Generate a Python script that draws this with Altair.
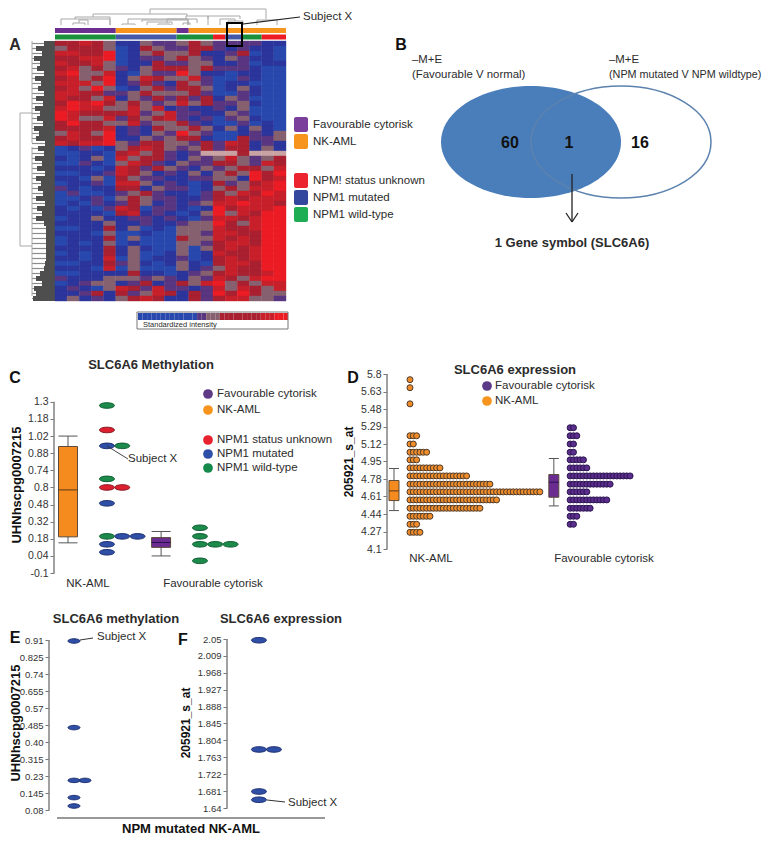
import altair as alt
import pandas as pd

FONT = "Liberation Sans"
DARK = "#2b2b2b"
ONE = pd.DataFrame({"a": [0]})

# ---------- panel A data ----------
heat_rows = [
"44543 11322 343 222 211","34443 01432 244 212 110","55446 01343 341 124 010","44556 01223 432 132 110",
"54453 01142 233 112 011","45343 21344 434 222 100","56335 10322 631 101 100","45346 13543 352 002 100",
"55536 12421 432 011 000","45363 01342 443 013 100","55442 23433 342 002 100","54435 13242 424 132 000",
"46564 34323 534 223 100","56553 35351 211 213 000","65444 45235 221 132 000","65335 24345 212 023 100",
"46443 35233 421 002 010","44445 12143 343 131 310","35436 12132 632 001 213","45446 11323 441 004 223",
"54556 32443 324 254 121","01201 34543 234 244 131","00110 45342 127 774 777","10130 53442 132 353 234",
"00210 35421 322 443 254","11101 54243 213 234 435","00112 54312 131 343 646","11030 43221 122 331 645",
"01120 55312 101 423 456","21011 44132 201 343 556","02001 23421 102 435 465","00120 34322 112 454 555",
"01021 24312 123 556 554","10102 54022 101 645 556","11110 45121 013 635 466","01131 12212 102 554 566",
"11113 11211 233 643 566","00114 13010 333 544 566","11103 00100 332 554 466","01114 03000 433 545 466",
"01013 01000 332 455 466","11114 13100 303 454 566","01014 13001 301 544 566","11015 03011 201 454 566",
"00114 23101 310 455 466","11105 03000 312 354 466","00111 14110 123 454 456","21113 33232 132 543 566",
"01233 12412 435 634 355","12103 54252 212 535 435","11241 42354 142 646 433","13121 34541 142 455 332",
]
level_colors = ["#2948ad", "#2b359b", "#59367f", "#86606e", "#a92030", "#c8202b", "#ec1c24", "#c9a3a3"]
colorbar_levels = "000000000000022333444444444555666"
bar1_seg = [(0, 5, "#6b2f91"), (5, 10, "#f7941d"), (10, 11, "#6b2f91"), (11, 19, "#f7941d")]
bar2_seg = [(0, 5, "#1a8f3c"), (5, 10, "#4558a8"), (10, 13, "#1a8f3c"), (13, 14, "#ed1c24"),
            (14, 15.4, "#4558a8"), (15.4, 17, "#1a8f3c"), (17, 19, "#ed1c24")]
# dendrogram joins: left px, right px, join height, left foot, right foot
top_tree = [(150,266,9,14,19),(93,187,14,17,16),(75,110,17,19,25),(61,110,19,25,25),(73,85,23,25,25),(79,88,20,23,25),
            (142,188,20,22,25),(147,172,22,25,25),(158,170,24,25,25),(122,135,24,25,25),(128,197,19,24,23),
            (167,188,19,23,25),(186,208,16,19,25),(183,190,23,25,25),(208,240,16,19,19),(220,235,19,25,21),
            (228,243,21,25,25),(257,277,20,25,25)]
left_start = [44,36,42,34,40,37,44,35,41,38,44,36,43,35,40,37,43,34,39,36,45,38,44,35,42,37,45,36,41,38,
              43,36,45,37,42,36,44,46,46,46,46,46,46,46,45,44,40,36,42,34,36,33]

cell_rows = []
for r, row in enumerate(heat_rows):
    digits = row.replace(" ", "")
    for c, d in enumerate(digits):
        cell_rows.append({"c": c, "c2": c + 1, "r": r, "r2": r + 1, "lv": int(d)})
heat_df = pd.DataFrame(cell_rows)

# grid cells in picture pixels
COL2, COL3 = 54, 387
ROW1, ROW2, ROW3 = 8, 345, 590
W2, W3 = 333, 378
H1, H2, H3 = 337, 245, 247

PX_COL, PX_ROW = 231 / 19, 5.0
def col_of(px): return (px - 55) / PX_COL
def row_of(py): return (py - 41) / PX_ROW

a_xs = alt.Scale(domain=[col_of(8), col_of(430)], range=[8 - COL2, 430 - COL2], nice=False, zero=False)
a_ys = alt.Scale(domain=[row_of(345), row_of(8)], range=[H1, 0], nice=False, zero=False)
lv_scale = alt.Scale(domain=list(range(8)), range=level_colors)

def ax(f): return alt.X(f, type="quantitative", scale=a_xs, axis=None)
def ay(f): return alt.Y(f, type="quantitative", scale=a_ys, axis=None)
def a2(f): return alt.X2(f)

def t(px, py, s, ox, oy, size=11.5, bold=False, align="left", angle=0, color=DARK):
    kw = dict(fontSize=size, font=FONT, align=align, baseline="middle", color=color,
              fontWeight="bold" if bold else "normal")
    if angle:
        kw["angle"] = angle
    return alt.Chart(ONE).mark_text(**kw).encode(x=alt.value(px - ox), y=alt.value(py - oy), text=alt.value(s))

def seg(x1, y1, x2, y2, ox, oy, color=DARK, w=1.0):
    return alt.Chart(ONE).mark_rule(color=color, strokeWidth=w).encode(
        x=alt.value(x1 - ox), x2=alt.value(x2 - ox), y=alt.value(y1 - oy), y2=alt.value(y2 - oy))

def box(x1, y1, x2, y2, ox, oy, fill="none", stroke=None, w=1.0, radius=0):
    kw = dict(fill=fill, cornerRadius=radius)
    if stroke:
        kw.update(stroke=stroke, strokeWidth=w)
    return alt.Chart(ONE).mark_rect(**kw).encode(
        x=alt.value(x1 - ox), x2=alt.value(x2 - ox), y=alt.value(y1 - oy), y2=alt.value(y2 - oy))

heat = alt.Chart(heat_df).mark_rect(strokeWidth=0.4).encode(
    x=ax("c"), x2=a2("c2"), y=ay("r"), y2=a2("r2"),
    color=alt.Color("lv:O", scale=lv_scale, legend=None),
    stroke=alt.Stroke("lv:O", scale=lv_scale, legend=None))

bars_df = pd.DataFrame(
    [{"c": a, "c2": b, "y": row_of(28), "y2": row_of(33), "col": k} for a, b, k in bar1_seg] +
    [{"c": a, "c2": b, "y": row_of(34.5), "y2": row_of(39.5), "col": k} for a, b, k in bar2_seg])
bars = alt.Chart(bars_df).mark_rect().encode(x=ax("c"), x2=a2("c2"), y=ay("y"), y2=a2("y2"),
                                             color=alt.Color("col:N", scale=None))

tree_rows = []
for x1, x2, h, f1, f2 in top_tree:
    tree_rows += [(x1, h, x2, h), (x1, h, x1, f1), (x2, h, x2, f2)]
tree_df = pd.DataFrame([{"x": col_of(a), "y": row_of(b), "x2": col_of(c), "y2": row_of(d)} for a, b, c, d in tree_rows])
tree = alt.Chart(tree_df).mark_rule(color="#a8a8a8", strokeWidth=1).encode(x=ax("x"), y=ay("y"), x2=a2("x2"), y2=a2("y2"))

left_df = pd.DataFrame([{"x": col_of(s), "x2": 0, "y": i + .5, "y2": i + .5} for i, s in enumerate(left_start)])
left_thin = pd.DataFrame([{"x": col_of(32), "x2": col_of(s), "y": i + .5, "y2": i + .5} for i, s in enumerate(left_start)])
left_mass = alt.Chart(left_df).mark_rule(color="#4e4e4e", strokeWidth=5).encode(x=ax("x"), x2=a2("x2"), y=ay("y"), y2=a2("y2"))
left_hair = alt.Chart(left_thin).mark_rule(color="#8c8c8c", strokeWidth=1.2).encode(x=ax("x"), x2=a2("x2"), y=ay("y"), y2=a2("y2"))
cbar_df = pd.DataFrame([{"x": col_of(138 + i * 150 / len(colorbar_levels)), "x2": col_of(138 + (i + 1) * 150 / len(colorbar_levels)),
                         "y": row_of(313), "y2": row_of(320), "lv": int(d)} for i, d in enumerate(colorbar_levels)])
cbar = alt.Chart(cbar_df).mark_rect().encode(x=ax("x"), x2=a2("x2"), y=ay("y"), y2=a2("y2"),
                                             color=alt.Color("lv:O", scale=lv_scale, legend=None))
AX, AY = COL2, ROW1
swatches = [(117, "#7a3f9b", "Favourable cytorisk"), (134, "#f7941d", "NK-AML"), (173, "#ec2430", "NPM! status unknown"),
            (190, "#33479f", "NPM1 mutated"), (207, "#1fae54", "NPM1 wild-type")]
a_layers = [left_hair, left_mass, tree, bars, heat, cbar,
            seg(20, 113, 20, 246, AX, AY, "#a8a8a8"), seg(20, 113, 32, 113, AX, AY, "#a8a8a8"), seg(20, 246, 32, 246, AX, AY, "#a8a8a8"),
            seg(32, 41, 32, 143, AX, AY, "#a8a8a8"), seg(32, 147, 32, 296, AX, AY, "#a8a8a8"),
            box(137, 312, 288, 329, AX, AY, stroke="#777777", w=1),
            t(143, 325, "Standardized intensity", AX, AY, size=7.5),
            box(227, 23, 242, 46, AX, AY, stroke="#000000", w=2),
            seg(243, 24, 300, 17, AX, AY, "#222222", 1.2),
            t(303, 17, "Subject X", AX, AY),
            t(15, 45, "A", AX, AY, size=16, bold=True, align="center")]
for yy, colr, lab in swatches:
    a_layers.append(box(294, yy, 308, yy + 15, AX, AY, fill=colr, radius=2))
    a_layers.append(t(313, yy + 7.5, lab, AX, AY))
panel_a = alt.layer(*a_layers).properties(width=W2, height=H1)

# ---------- panel B ----------
ELL = "M-1,0A1,.622 0 1 1 1,0A1,.622 0 1 1 -1,0Z"
BX, BY = COL3, ROW1
def ell(cx, cy, **kw):
    return alt.Chart(ONE).mark_point(shape=ELL, size=32400, **kw).encode(x=alt.value(cx - BX), y=alt.value(cy - BY))
panel_b = alt.layer(
    ell(531, 142, filled=True, fill="#4a7ebb", opacity=1),
    ell(621, 142, filled=False, stroke="#5c82ae", strokeWidth=1.5, opacity=1),
    t(412, 60, "–M+E", BX, BY, size=11.4), t(412, 75, "(Favourable V normal)", BX, BY, size=11.4),
    t(609, 60, "–M+E", BX, BY, size=11.4), t(609, 75, "(NPM mutated V NPM wildtype)", BX, BY, size=10.8),
    t(510, 143, "60", BX, BY, size=16, bold=True, align="center", color="#111111"),
    t(569, 143, "1", BX, BY, size=16, bold=True, align="center", color="#111111"),
    t(640, 143, "16", BX, BY, size=16, bold=True, align="center", color="#111111"),
    seg(572, 174, 572, 222, BX, BY, "#222222", 1.3), seg(566, 213, 572, 222, BX, BY, "#222222", 1.3),
    seg(578, 213, 572, 222, BX, BY, "#222222", 1.3),
    t(572, 243, "1 Gene symbol (SLC6A6)", BX, BY, size=13, bold=True, align="center"),
    t(401, 45, "B", BX, BY, size=16, bold=True, align="center", color="#111111"),
).properties(width=W3, height=H1)

# ---------- dot panels shared pieces ----------
ELLIPSE = "M-1,0A1,.37 0 1 1 1,0A1,.37 0 1 1 -1,0Z"
GREEN, BLUE, RED = ("#1b8a4b", "#0f5a30"), ("#2f4ea6", "#1a2d6e"), ("#dd2030", "#861520")

def panel(xs, ys, axis_x, cell_x, w, h, y_ticks, y_labels, tick_lo, tick_hi, boxes, dot_df, dot_shape, dot_size, extra, label_size=10.5):
    expr = "{}[round((datum.value-({}))/({}))]".format(
        str(y_labels), y_ticks[0], y_ticks[1] - y_ticks[0])
    axis_y = alt.Axis(values=y_ticks, labelExpr=expr, domain=False, grid=False, ticks=True, tickSize=4, tickColor="#777777",
                      labelFont=FONT, labelFontSize=label_size, labelColor="#333333", labelPadding=2, title=None,
                      offset=cell_x - axis_x)
    def X(f): return alt.X(f, type="quantitative", scale=xs, axis=None)
    def Y(f): return alt.Y(f, type="quantitative", scale=ys, axis=axis_y)
    base = alt.Chart(pd.DataFrame({"v": [tick_lo], "v2": [tick_hi]}))
    spine = base.mark_rule(color="#8a8a8a", strokeWidth=1.6).encode(
        x=alt.value(axis_x - cell_x), y=Y("v"), y2=alt.Y2("v2"))
    layers = [spine]
    for b in boxes:
        bdf = pd.DataFrame([b])
        layers.append(alt.Chart(bdf).mark_rule(color="#555555", strokeWidth=1).encode(x=X("c"), y=Y("lo"), y2=alt.Y2("hi")))
        layers.append(alt.Chart(bdf).mark_rule(color="#555555", strokeWidth=1).encode(x=X("cap1"), x2=alt.X2("cap2"), y=Y("lo")))
        layers.append(alt.Chart(bdf).mark_rule(color="#555555", strokeWidth=1).encode(x=X("cap1"), x2=alt.X2("cap2"), y=Y("hi")))
        layers.append(alt.Chart(bdf).mark_rect(fill=b["fill"], stroke="#5a4a3a", strokeWidth=1).encode(x=X("l"), x2=alt.X2("r"), y=Y("q1"), y2=alt.Y2("q3")))
        layers.append(alt.Chart(bdf).mark_rule(color="#5a3a1a" if b["fill"][1] == "f" else "#2a1050", strokeWidth=1).encode(x=X("l"), x2=alt.X2("r"), y=Y("med")))
    layers.append(alt.Chart(dot_df).mark_point(shape=dot_shape, size=dot_size, filled=True, opacity=1, strokeWidth=1).encode(
        x=X("x"), y=Y("y"),
        fill=alt.Fill("fill:N", scale=None), stroke=alt.Stroke("line:N", scale=None)))
    layers += extra
    return alt.layer(*layers).properties(width=w, height=h)

def dots(rows):
    return pd.DataFrame([{"x": x, "y": y, "fill": k[0], "line": k[1]} for x, y, k in rows])

# ---------- panel C ----------
CX, CY, CW, CH = COL2, ROW2, W2, H2
c_step = 15.3
c_ticks = [round(-0.1 + 0.14 * i, 2) for i in range(11)]
c_labels = ["-0.1", "0.04", "0.18", "0.32", "0.48", "0.8", "0.74", "0.88", "1.02", "1.18", "1.3"]
nk_col, fav_col = 3.46, 9.54
c_points = [
    (0, 1.27, GREEN), (0, 1.07, RED), (1, 0.94, GREEN), (0, 0.94, BLUE), (0, 0.67, GREEN), (0, 0.60, RED), (1, 0.60, RED),
    (0, 0.47, BLUE), (2, 0.20, BLUE), (1, 0.20, BLUE), (0, 0.20, GREEN), (0, 0.135, BLUE), (0, 0.07, BLUE)]
c_fav_points = [(0, 0.27, GREEN), (0, 0.20, GREEN), (2, 0.135, GREEN), (1, 0.135, GREEN), (0, 0.135, GREEN), (0, 0.0, GREEN)]
c_xs = alt.Scale(domain=[0, CW / c_step], range=[0, CW], nice=False, zero=False)
c_u = 171.67 / 1.4
c_ys = alt.Scale(domain=[-0.1 - 17 / c_u, 1.3 + 57 / c_u], range=[CH, 0], nice=False, zero=False)
c_df = dots([(nk_col + s, v, k) for s, v, k in c_points] + [(fav_col + s, v, k) for s, v, k in c_fav_points])
c_boxes = [
    dict(c=.915, cap1=.915 - .62, cap2=.915 + .62, l=.915 - .62, r=.915 + .62, lo=.147, hi=1.02, q1=.196, q3=.935, med=.58, fill="#f58a1f"),
    dict(c=7.0, cap1=6.38, cap2=7.62, l=6.38, r=7.62, lo=.04, hi=.24, q1=.11, q3=.19, med=.15, fill="#6a2c91"),
]
c_extra = [
    t(151, 365, "SLC6A6 Methylation", CX, CY, size=13, bold=True, align="center"),
    t(15, 378, "C", CX, CY, size=16, bold=True, align="center", color="#111111"),
    t(17, 485, "UHNhscpg0007215", CX, CY, size=13, bold=True, align="center", angle=270, color="#111111"),
    seg(107, 446, 128, 459, CX, CY, "#333333", 0.9),
    t(128, 459, "Subject X", CX, CY),
    t(88, 584, "NK-AML", CX, CY, align="center"),
    t(213, 584, "Favourable cytorisk", CX, CY, align="center"),
]
for yy, colr, lab in [(394, "#5e3a86", "Favourable cytorisk"), (410, "#f7941d", "NK-AML"), (440, "#e8212e", "NPM1 status unknown"),
                      (454, "#2e4fa8", "NPM1 mutated"), (468, "#168a4a", "NPM1 wild-type")]:
    c_extra.append(alt.Chart(ONE).mark_point(shape="circle", filled=True, size=95, color=colr, opacity=1).encode(x=alt.value(208 - CX), y=alt.value(yy - CY)))
    c_extra.append(t(217, yy, lab, CX, CY))
panel_c = panel(c_xs, c_ys, 54, COL2, CW, CH, c_ticks, c_labels, -0.1, 1.3, c_boxes, c_df, ELLIPSE, 225, c_extra, label_size=10.5)

# ---------- panel D ----------
DX, DY, DW, DH = COL3, ROW2, W3, H2
d_step = 3.33
d_ticks = [round(4.1 + 0.17 * i, 2) for i in range(11)]
d_labels = ["4.1", "4.27", "4.44", "4.61", "4.78", "4.95", "5.12", "5.29", "5.48", "5.63", "5.8"]
d_nk_vals = [5.745, 5.667, 5.51, 5.20, 5.12, 5.04, 4.966, 4.888, 4.81, 4.73, 4.655, 4.577, 4.496, 4.418, 4.34, 4.262]
d_nk_cnts = [1, 1, 1, 3, 2, 6, 3, 10, 18, 25, 40, 27, 22, 7, 3, 4]
d_fav_vals = [5.278, 5.20, 5.12, 5.04, 4.966, 4.888, 4.81, 4.73, 4.655, 4.577, 4.496, 4.418, 4.34]
d_fav_cnts = [2, 3, 2, 2, 5, 6, 19, 13, 6, 12, 7, 3, 2]
ORANGE_D, PURPLE_D = ("#f08c2a", "#4b3a2a"), ("#5b2d8c", "#2c1650")
d_u = 175 / 1.7
d_xs = alt.Scale(domain=[0, DW / d_step], range=[0, DW], nice=False, zero=False)
d_ys = alt.Scale(domain=[4.1 - 41 / d_u, 5.8 + 29 / d_u], range=[DH, 0], nice=False, zero=False)
d_rows = []
for v, n in zip(d_nk_vals, d_nk_cnts):
    d_rows += [(6.9 + i, v, ORANGE_D) for i in range(n)]
for v, n in zip(d_fav_vals, d_fav_cnts):
    d_rows += [(55 + i, v, PURPLE_D) for i in range(n)]
d_df = dots(d_rows)
def dv(zy): return 5.8 - (zy - 73) / 524 * 1.7
d_boxes = [
    dict(c=2.1, cap1=.6, cap2=3.6, l=.6, r=3.6, lo=dv(482), hi=dv(356), q1=dv(452), q3=dv(392), med=dv(423), fill="#f58a1f"),
    dict(c=50.1, cap1=48.6, cap2=51.6, l=48.6, r=51.6, lo=dv(468), hi=dv(326), q1=dv(442), q3=dv(374), med=dv(397), fill="#6a2c91"),
]
d_extra = [
    t(515, 370, "SLC6A6 expression", DX, DY, size=13, bold=True, align="center"),
    t(353, 378, "D", DX, DY, size=16, bold=True, align="center", color="#111111"),
    t(349, 462, "205921_s_at", DX, DY, size=12, bold=True, align="center", angle=270, color="#111111"),
    t(431, 559, "NK-AML", DX, DY, align="center"),
    t(604, 559, "Favourable cytorisk", DX, DY, align="center"),
]
for yy, colr, lab in [(386, "#5b3a88", "Favourable cytorisk"), (401, "#f7941d", "NK-AML")]:
    d_extra.append(alt.Chart(ONE).mark_point(shape="circle", filled=True, size=95, color=colr, opacity=1).encode(x=alt.value(487 - DX), y=alt.value(yy - DY)))
    d_extra.append(t(495, yy, lab, DX, DY))
panel_d = panel(d_xs, d_ys, 387, COL3, DW, DH, d_ticks, d_labels, 4.1, 5.8, d_boxes, d_df, "circle", 36, d_extra, label_size=10.5)

# ---------- panel E ----------
EX, EY, EW, EH = COL2, ROW3, W2, H3
e_ticks = [round(0.06 + 0.085 * i, 3) for i in range(11)]
e_labels = ["0.08", "0.145", "0.23", "0.315", "0.40", "0.485", "0.57", "0.655", "0.74", "0.825", "0.91"]
e_points = [(0, 0.905), (0, 0.472), (1, 0.208), (0, 0.208), (0, 0.122), (0, 0.08)]
e_u = 200.0
e_xs = alt.Scale(domain=[0, 16.18], range=[49 - COL2, 227 - COL2], nice=False, zero=False)
e_ys = alt.Scale(domain=[0.06 - 27 / e_u, 0.91 + 50 / e_u], range=[EH, 0], nice=False, zero=False)
e_df = dots([(2.27 + s, v, BLUE) for s, v in e_points])
e_extra = [
    t(116, 619, "SLC6A6 methylation", EX, EY, size=13, bold=True, align="center"),
    t(15, 638, "E", EX, EY, size=16, bold=True, align="center", color="#111111"),
    t(16, 723, "UHNhscpg0007215", EX, EY, size=13, bold=True, align="center", angle=270, color="#111111"),
    seg(80, 640, 93, 638, EX, EY, "#333333", 1),
    t(97, 637, "Subject X", EX, EY),
]
panel_e = panel(e_xs, e_ys, 49, COL2, EW, EH, e_ticks, e_labels, 0.06, 0.91, [], e_df, ELLIPSE, 144, e_extra, label_size=9.5)

# ---------- panel F ----------
FX, FY, FW, FH = COL3, ROW3, W3, H3
f_ticks = [round(1.64 + 0.041 * i, 3) for i in range(11)]
f_labels = ["1.64", "1.681", "1.722", "1.763", "1.804", "1.845", "1.888", "1.927", "1.968", "2.009", "2.05"]
f_points = [(0, 2.047), (1, 1.782), (0, 1.782), (0, 1.68), (0, 1.66)]
f_u = 169 / 0.41
f_xs = alt.Scale(domain=[0, 35.87], range=[227 - COL3, 765 - COL3], nice=False, zero=False)
f_ys = alt.Scale(domain=[1.64 - 29 / f_u, 2.05 + 49 / f_u], range=[FH, 0], nice=False, zero=False)
f_df = dots([(2.13 + s, v, BLUE) for s, v in f_points])
f_extra = [
    t(281, 619, "SLC6A6 expression", FX, FY, size=13, bold=True, align="center"),
    t(183, 640, "F", FX, FY, size=16, bold=True, align="center", color="#111111"),
    t(186, 723, "205921_s_at", FX, FY, size=12, bold=True, align="center", angle=270, color="#111111"),
    seg(267, 800, 285, 802, FX, FY, "#333333", 1),
    t(288, 803, "Subject X", FX, FY),
    seg(57, 818, 325, 818, FX, FY, "#777777", 1.6),
    t(191, 829, "NPM mutated NK-AML", FX, FY, size=13, bold=True, align="center", color="#111111"),
]
panel_f = panel(f_xs, f_ys, 227, COL3, FW, FH, f_ticks, f_labels, 1.64, 2.05, [], f_df, ELLIPSE, 225, f_extra, label_size=9.5)

def spacer(w, h):
    return alt.Chart(ONE).mark_point(opacity=0, size=1).encode(x=alt.value(20), y=alt.value(20)).properties(width=w, height=h)

chart = alt.concat(
    spacer(46, H1), panel_a, panel_b,
    spacer(46, H2), panel_c, panel_d,
    spacer(46, H3), panel_e, panel_f,
    columns=3, spacing=0, bounds="flush",
).properties(padding=0, background="white").configure_view(stroke=None)
chart.save("out.html", embed_options={"renderer": "svg", "actions": False})
